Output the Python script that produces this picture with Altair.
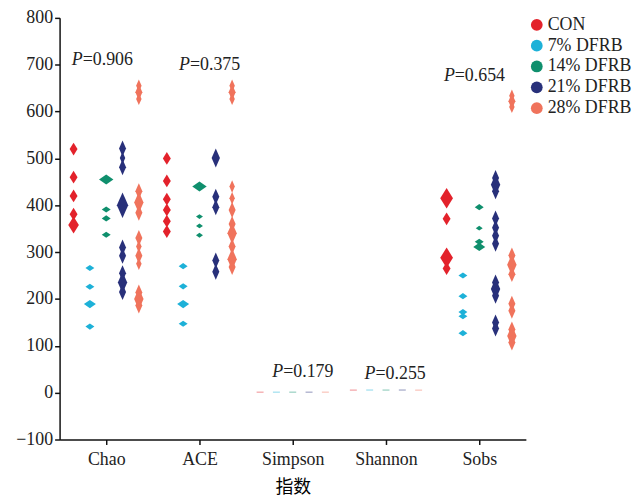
import altair as alt
import pandas as pd

CATEGORIES = ["Chao", "ACE", "Simpson", "Shannon", "Sobs"]
GROUPS = ["CON", "7% DFRB", "14% DFRB", "21% DFRB", "28% DFRB"]
COLORS = ["#e3222b", "#1db1d8", "#0f8f6d", "#28307a", "#f0735c"]

# observed values (value, relative weight) per index and group
CHAO_VALUES = {
    "CON": [520, 460, 420, 381, 358],
    "7% DFRB": [266, 226, 189, 141],
    "14% DFRB": [455, 391, 372, 337],
    "21% DFRB": [521, 501, 481, 400, 310, 292, 255, 235, 215],
    "28% DFRB": [655, 641, 627, 430, 406, 384, 330, 312, 292, 275, 214, 200, 186],
}
CHAO_WEIGHTS = {
    "CON": [1, 1, 1, 1, 2],
    "7% DFRB": [1, 1, 2, 1],
    "14% DFRB": [3, 1, 1, 1],
    "21% DFRB": [1, 0.5, 1, 3, 1, 1, 1, 2, 1],
    "28% DFRB": [0.5, 1, 0.5, 1, 2, 1, 1, 0.5, 1, 0.5, 1, 2, 1],
}
ACE_VALUES = {
    "CON": [500, 452, 413, 390, 366, 344],
    "7% DFRB": [270, 227, 189, 147],
    "14% DFRB": [440, 376, 356, 336],
    "21% DFRB": [501, 418, 396, 282, 258],
    "28% DFRB": [655, 641, 627, 440, 415, 390, 360, 340, 312, 285, 268],
}
ACE_WEIGHTS = {
    "CON": [1, 1, 1, 1, 1, 1],
    "7% DFRB": [1, 1, 2, 1],
    "14% DFRB": [3, 0.5, 0.5, 0.5],
    "21% DFRB": [1.5, 1, 1, 1, 1],
    "28% DFRB": [0.5, 1, 0.5, 0.5, 0.5, 1, 1, 2, 1, 2, 1],
}
SOBS_VALUES = {
    "CON": [415, 371, 288, 265],
    "7% DFRB": [250, 206, 172, 163, 127],
    "14% DFRB": [396, 351, 322, 311],
    "21% DFRB": [458, 444, 430, 372, 352, 335, 318, 235, 221, 207, 150, 137],
    "28% DFRB": [634, 622, 610, 293, 273, 253, 190, 175, 135, 121, 107],
}
SOBS_WEIGHTS = {
    "CON": [3, 1, 3, 1],
    "7% DFRB": [1, 1, 1, 1, 1],
    "14% DFRB": [1, 0.5, 1, 2],
    "21% DFRB": [1, 2, 1, 1, 1, 1, 1, 1, 2, 1, 1, 1],
    "28% DFRB": [0.5, 1, 0.5, 1, 2, 1, 1, 1, 1, 2, 1],
}
SIMPSON = [0.95, 0.96, 0.96, 0.95, 0.96]
SHANNON = [5.4, 5.6, 5.5, 5.6, 5.3]

P_LABELS = ["=0.906", "=0.375", "=0.179", "=0.255", "=0.654"]
P_Y = [711, 700, 43, 39, 675]
P_SHIFT = [-0.05, 0.1, 0.1, 0.09, -0.06]

rows = []
for ci, (vals, wts) in {0: (CHAO_VALUES, CHAO_WEIGHTS), 1: (ACE_VALUES, ACE_WEIGHTS),
                        4: (SOBS_VALUES, SOBS_WEIGHTS)}.items():
    for gi, g in enumerate(GROUPS):
        for v, w in zip(vals[g], wts[g]):
            rows.append({"ci": ci, "gi": gi, "group": g, "form": "f" + str(gi),
                         "value": v, "n": w})
pts = pd.DataFrame(rows)

small_rows = []
for ci, arr in ((2, SIMPSON), (3, SHANNON)):
    for gi, g in enumerate(GROUPS):
        small_rows.append({"ci": ci, "gi": gi, "group": g, "value": arr[gi]})
small = pd.DataFrame(small_rows)

ptext = pd.DataFrame({"ci": list(range(5)), "label": P_LABELS, "y": P_Y, "shift": P_SHIFT})

TALL = "M0,-1L0.62,0L0,1L-0.62,0Z"
ELONG = "M0,-1.25L0.55,0L0,1.25L-0.55,0Z"
FLAT = "M0,-0.48L0.7,0L0,0.48L-0.7,0Z"

label_expr = "['Chao','ACE','Simpson','Shannon','Sobs'][datum.value]"
xscale = alt.Scale(domain=[-0.5, 4.5], nice=False, zero=False)
yscale = alt.Scale(domain=[-100, 800], nice=False, zero=False)

xaxis = alt.Axis(values=[0, 1, 2, 3, 4], labelExpr=label_expr, title="指数",
                 titleFont="Noto Sans CJK SC", titleFontSize=18, titleFontWeight="normal",
                 titlePadding=10, labelFont="Liberation Serif", labelFontSize=18,
                 labelPadding=6, tickSize=5, grid=False)
yaxis = alt.Axis(values=list(range(-100, 801, 100)), title=None,
                 labelFont="Liberation Serif", labelFontSize=18, labelPadding=2,
                 tickSize=5, grid=False)

points = alt.Chart(pts).transform_calculate(
    xpos="datum.ci + (datum.gi - 2) * 0.175"
).mark_point(filled=True, opacity=1, strokeWidth=0).encode(
    x=alt.X("xpos:Q", scale=xscale, axis=xaxis),
    y=alt.Y("value:Q", scale=yscale, axis=yaxis),
    color=alt.Color("group:N", scale=alt.Scale(domain=GROUPS, range=COLORS),
                    legend=alt.Legend(title=None, orient="none", legendX=472, legendY=-2,
                                      symbolType="circle", symbolSize=140,
                                      symbolStrokeWidth=0, labelFont="Liberation Serif",
                                      labelFontSize=18, labelColor="#222",
                                      rowPadding=3, labelOffset=2)),
    shape=alt.Shape("form:N", scale=alt.Scale(domain=["f0", "f1", "f2", "f3", "f4"],
                                              range=[TALL, FLAT, FLAT, ELONG, ELONG]),
                    legend=None),
    size=alt.Size("n:Q", scale=alt.Scale(domain=[0.5, 3], range=[100, 430], zero=False), legend=None),
)

ticks = alt.Chart(small).transform_calculate(
    xpos="datum.ci + (datum.gi - 2) * 0.175"
).mark_tick(orient="horizontal", size=7, thickness=1.5, opacity=0.35).encode(
    x=alt.X("xpos:Q", scale=xscale),
    y=alt.Y("value:Q", scale=yscale),
    color=alt.Color("group:N", scale=alt.Scale(domain=GROUPS, range=COLORS)),
)

base_text = alt.Chart(ptext).transform_calculate(xpos="datum.ci + datum.shift")

p_italic = base_text.mark_text(text="P", align="right", baseline="middle", dx=-19,
                               font="Liberation Serif", fontSize=18, fontStyle="italic",
                               color="#222").encode(
    x=alt.X("xpos:Q", scale=xscale), y=alt.Y("y:Q", scale=yscale))

p_rest = base_text.mark_text(align="left", baseline="middle", dx=-19,
                             font="Liberation Serif", fontSize=18, color="#222").encode(
    x=alt.X("xpos:Q", scale=xscale), y=alt.Y("y:Q", scale=yscale), text="label:N")

chart = alt.layer(points, ticks, p_italic, p_rest).properties(
    width=470, height=425,
    autosize=alt.AutoSizeParams(type="none"),
    padding={"left": 52, "top": 8, "right": 110, "bottom": 56},
).configure_view(stroke=None).configure_axis(
    domainColor="#111", domainWidth=1.5, tickColor="#111", tickWidth=1.5, labelColor="#222"
)

chart.save("out.html", embed_options={"renderer": "svg", "actions": False})
